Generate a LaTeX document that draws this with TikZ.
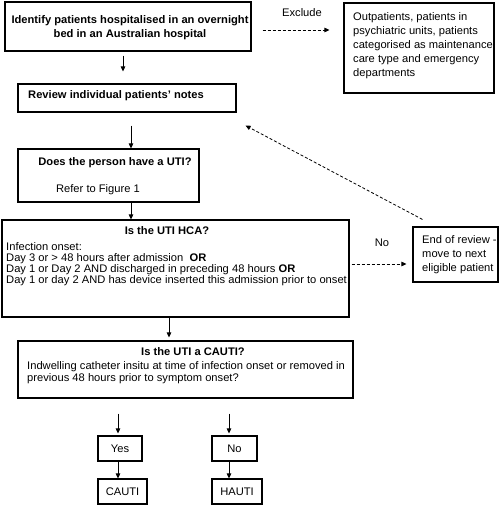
\documentclass[tikz,border=0pt]{standalone}
\usepackage{fontspec}
\setmainfont{Liberation Sans}[FakeStretch=1.015]
\usetikzlibrary{arrows.meta,calc}
\begin{document}
\begin{tikzpicture}[x=1pt,y=-1pt,
  box/.style={draw, line width=1.1pt, inner sep=0pt, rectangle},
  txt/.style={inner sep=0pt, font=\fontsize{11}{14}\selectfont},
  btxt/.style={txt, font=\fontsize{11}{14}\selectfont\bfseries},
  arr/.style={line width=0.8pt, -{Triangle[length=5pt,width=4.5pt]}},
  darr/.style={arr, dash pattern=on 3pt off 2pt}]
\useasboundingbox (0,0) rectangle (500,506);
% boxes
\node[box, minimum width=246pt, minimum height=49pt] (b1) at (128,26.5) {};
\node[box, minimum width=150pt, minimum height=90pt] (excl) at (419,48) {};
\node[box, minimum width=218pt, minimum height=28pt] (rev) at (127,98) {};
\node[box, minimum width=181pt, minimum height=53pt] (uti) at (108.5,175.5) {};
\node[box, minimum width=347pt, minimum height=97pt] (hca) at (175.5,268.5) {};
\node[box, minimum width=85pt, minimum height=55pt] (end) at (455.5,254.5) {};
\node[box, minimum width=335pt, minimum height=57pt] (cauti) at (185.5,369.5) {};
\node[box, txt, minimum width=44pt, minimum height=25pt] (yes) at (120,448.5) {Yes};
\node[box, txt, minimum width=45pt, minimum height=25pt] (no) at (234.5,448.5) {No};
\node[box, txt, minimum width=49pt, minimum height=25pt] (cres) at (122.5,491.5) {CAUTI};
\node[box, txt, minimum width=50pt, minimum height=25pt] (hres) at (237,491.5) {HAUTI};
% texts
\node[btxt, anchor=north, align=center] (t1) at (130,15.1)
  {Identify patients hospitalised in an overnight\\bed in an Australian hospital};
\node[txt, anchor=north west, align=left] (texcl) at (353,12.1)
  {Outpatients, patients in\\psychiatric units, patients\\categorised as maintenance\\care type and emergency\\departments};
\node[txt, anchor=base] (lexcl) at (302,16.9) {Exclude};
\node[btxt, anchor=base west] (trev) at (28,98.9) {Review individual patients’ notes};
\node[btxt, anchor=base] (tuti) at (115,165.9) {Does the person have a UTI?};
\node[txt, anchor=base] (tref) at (98,192.9) {Refer to Figure 1};
\node[btxt, anchor=base] (thca) at (167,234.9) {Is the UTI HCA?};
\node[txt, anchor=north west, align=left, font=\fontsize{11}{11}\selectfont] (lhca) at (6,242.1)
  {Infection onset:\\Day 3 or > 48 hours after admission\ \ \textbf{OR}\\Day 1 or Day 2 AND discharged in preceding 48 hours \textbf{OR}\\Day 1 or day 2 AND has device inserted this admission prior to onset};
\node[txt, anchor=base] (lno) at (382,246.9) {No};
\node[txt, anchor=north west, align=left] (tend) at (422,235.1)
  {End of review -\\move to next\\eligible patient};
\node[btxt, anchor=base] (tcau) at (193,355.9) {Is the UTI a CAUTI?};
\node[txt, anchor=north west, align=left, font=\fontsize{11}{12.3}\selectfont] (lcau) at (27,361.1)
  {Indwelling catheter insitu at time of infection onset or removed in\\previous 48 hours prior to symptom onset?};
% connectors
\draw[arr, shorten <=4pt, shorten >=12pt] (123,0 |- b1.south) -- (123,0 |- rev.north);
\draw[arr, shorten <=13pt] (131,0 |- rev.south) -- (131,0 |- uti.north);
\draw[arr] (131,0 |- uti.south) -- (131,0 |- hca.north);
\draw[arr, shorten >=3pt] (169,0 |- hca.south) -- (169,0 |- cauti.north);
\draw[arr, shorten <=15pt, shorten >=2pt] (118,0 |- cauti.south) -- (118,0 |- yes.north);
\draw[arr, shorten <=15pt, shorten >=2pt] (229,0 |- cauti.south) -- (229,0 |- no.north);
\draw[arr] (118,0 |- yes.south) -- (118,0 |- cres.north);
\draw[arr] (229,0 |- no.south) -- (229,0 |- hres.north);
\draw[darr, shorten <=11pt, shorten >=14pt] (b1.east |- 0,30) -- (excl.west |- 0,30);
\draw[darr, shorten <=2pt, shorten >=6pt] (hca.east |- 0,264) -- (end.west |- 0,264);
\draw[darr] ($(end.north west)+(10,-7)$) -- ($(rev.south east)+(9,13)$);
\end{tikzpicture}
\end{document}
